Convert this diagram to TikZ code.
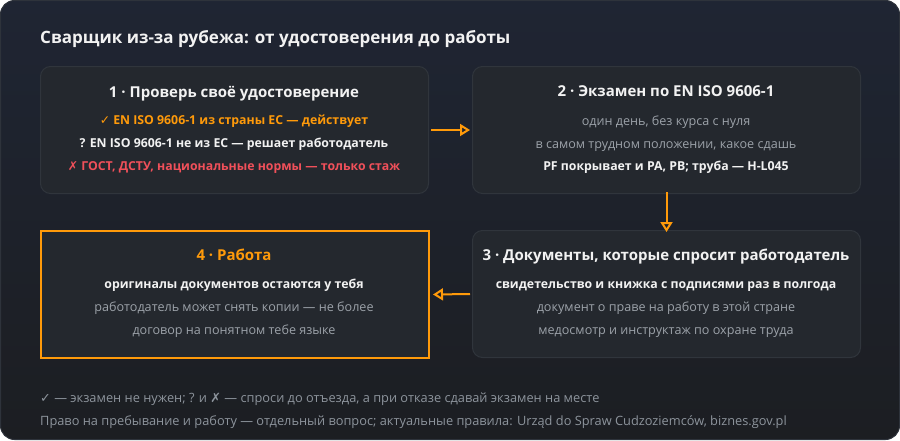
\documentclass[tikz,border=0pt]{standalone}
\usepackage{fontspec}
\setmainfont{Open Sans}
\newfontfamily\symfont{DejaVu Sans}
\usetikzlibrary{arrows.meta}
\definecolor{bgtop}{HTML}{1F2533}
\definecolor{bgbot}{HTML}{1C1E22}
\definecolor{panelborder}{HTML}{2E333B}
\definecolor{boxfill}{HTML}{24282E}
\definecolor{boxline}{HTML}{30353C}
\definecolor{accent}{HTML}{FF9A0A}
\definecolor{warnred}{HTML}{F0505A}
\definecolor{txtwhite}{HTML}{F2F2F2}
\definecolor{txtgray}{HTML}{9CA2A9}
\definecolor{footgray}{HTML}{8D949C}
\tikzset{
  x=1pt,y=-1pt,
  card/.style={draw=boxline,line width=1pt,fill=boxfill,rounded corners=10pt},
  hicard/.style={draw=accent,line width=2pt,fill=boxfill},
  ttl/.style={font=\fontsize{15}{18}\selectfont\bfseries,text=txtwhite,anchor=base},
  bline/.style={font=\fontsize{12.3}{14}\selectfont\bfseries,text=txtwhite,anchor=base},
  gline/.style={font=\fontsize{12.6}{14}\selectfont,text=txtgray,anchor=base},
  foot/.style={font=\fontsize{12.8}{15}\selectfont,text=footgray,anchor=base west,inner sep=0pt},
  flow/.style={draw=accent,line width=2pt,-{Triangle[open,length=10pt,width=12pt,line width=2pt]}},
}
\begin{document}
\begin{tikzpicture}
\useasboundingbox (0,0) rectangle (900,440);
\shade[top color=bgtop,bottom color=bgbot,draw=panelborder,line width=1pt,rounded corners=14pt] (0.5,0.5) rectangle (899.5,439.5);
\node[font=\fontsize{17}{20}\selectfont\bfseries,text=txtwhite,anchor=base west,inner sep=0pt] (title) at (40,43) {Сварщик из-за рубежа: от удостоверения до работы};
% boxes
\node[card,minimum width=388pt,minimum height=127pt,anchor=north west] (b1) at (40,66) {};
\node[card,minimum width=388pt,minimum height=127pt,anchor=north west] (b2) at (472,66) {};
\node[card,minimum width=388pt,minimum height=127pt,anchor=north west] (b3) at (472,230) {};
\node[hicard,minimum width=388pt,minimum height=127pt,anchor=north west] (b4) at (40,230) {};
% box 1
\node[ttl] (t1) at (234,97) {1 · Проверь своё удостоверение};
\node[bline,text=accent] (l11) at (234,124) {{\symfont\bfseries ✓} EN ISO 9606-1 из страны ЕС — действует};
\node[bline] (l12) at (234,147) {? EN ISO 9606-1 не из ЕС — решает работодатель};
\node[bline,text=warnred] (l13) at (234,170) {{\symfont ✗} ГОСТ, ДСТУ, национальные нормы — только стаж};
% box 2
\node[ttl] (t2) at (666,96) {2 · Экзамен по EN ISO 9606-1};
\node[gline] (l21) at (666,125) {один день, без курса с нуля};
\node[gline] (l22) at (666,148) {в самом трудном положении, какое сдашь};
\node[bline] (l23) at (666,170) {PF покрывает и PA, PB; труба — H-L045};
% box 3
\node[ttl] (t3) at (666,260) {3 · Документы, которые спросит работодатель};
\node[bline] (l31) at (666,288) {свидетельство и книжка с подписями раз в полгода};
\node[gline] (l32) at (666,311) {документ о праве на работу в этой стране};
\node[gline] (l33) at (666,334) {медосмотр и инструктаж по охране труда};
% box 4
\node[ttl,text=accent] (t4) at (234,260) {4 · Работа};
\node[bline] (l41) at (234,288) {оригиналы документов остаются у тебя};
\node[gline] (l42) at (234,311) {работодатель может снять копии — не более};
\node[gline] (l43) at (234,334) {договор на понятном тебе языке};
% arrows
\draw[flow] ([xshift=2pt]b1.east) -- ([xshift=-2pt]b2.west);
\draw[flow] ([yshift=2pt]b2.south) -- ([yshift=-2pt]b3.north);
\draw[flow] ([xshift=-2pt]b3.west) -- ([xshift=3pt]b4.east);
% footer
\node[foot] (f1) at (40,402) {{\symfont ✓} — экзамен не нужен; ? и {\symfont ✗} — спроси до отъезда, а при отказе сдавай экзамен на месте};
\node[foot] (f2) at (40,425) {Право на пребывание и работу — отдельный вопрос; актуальные правила: Urząd do Spraw Cudzoziemców, biznes.gov.pl};
\end{tikzpicture}
\end{document}
